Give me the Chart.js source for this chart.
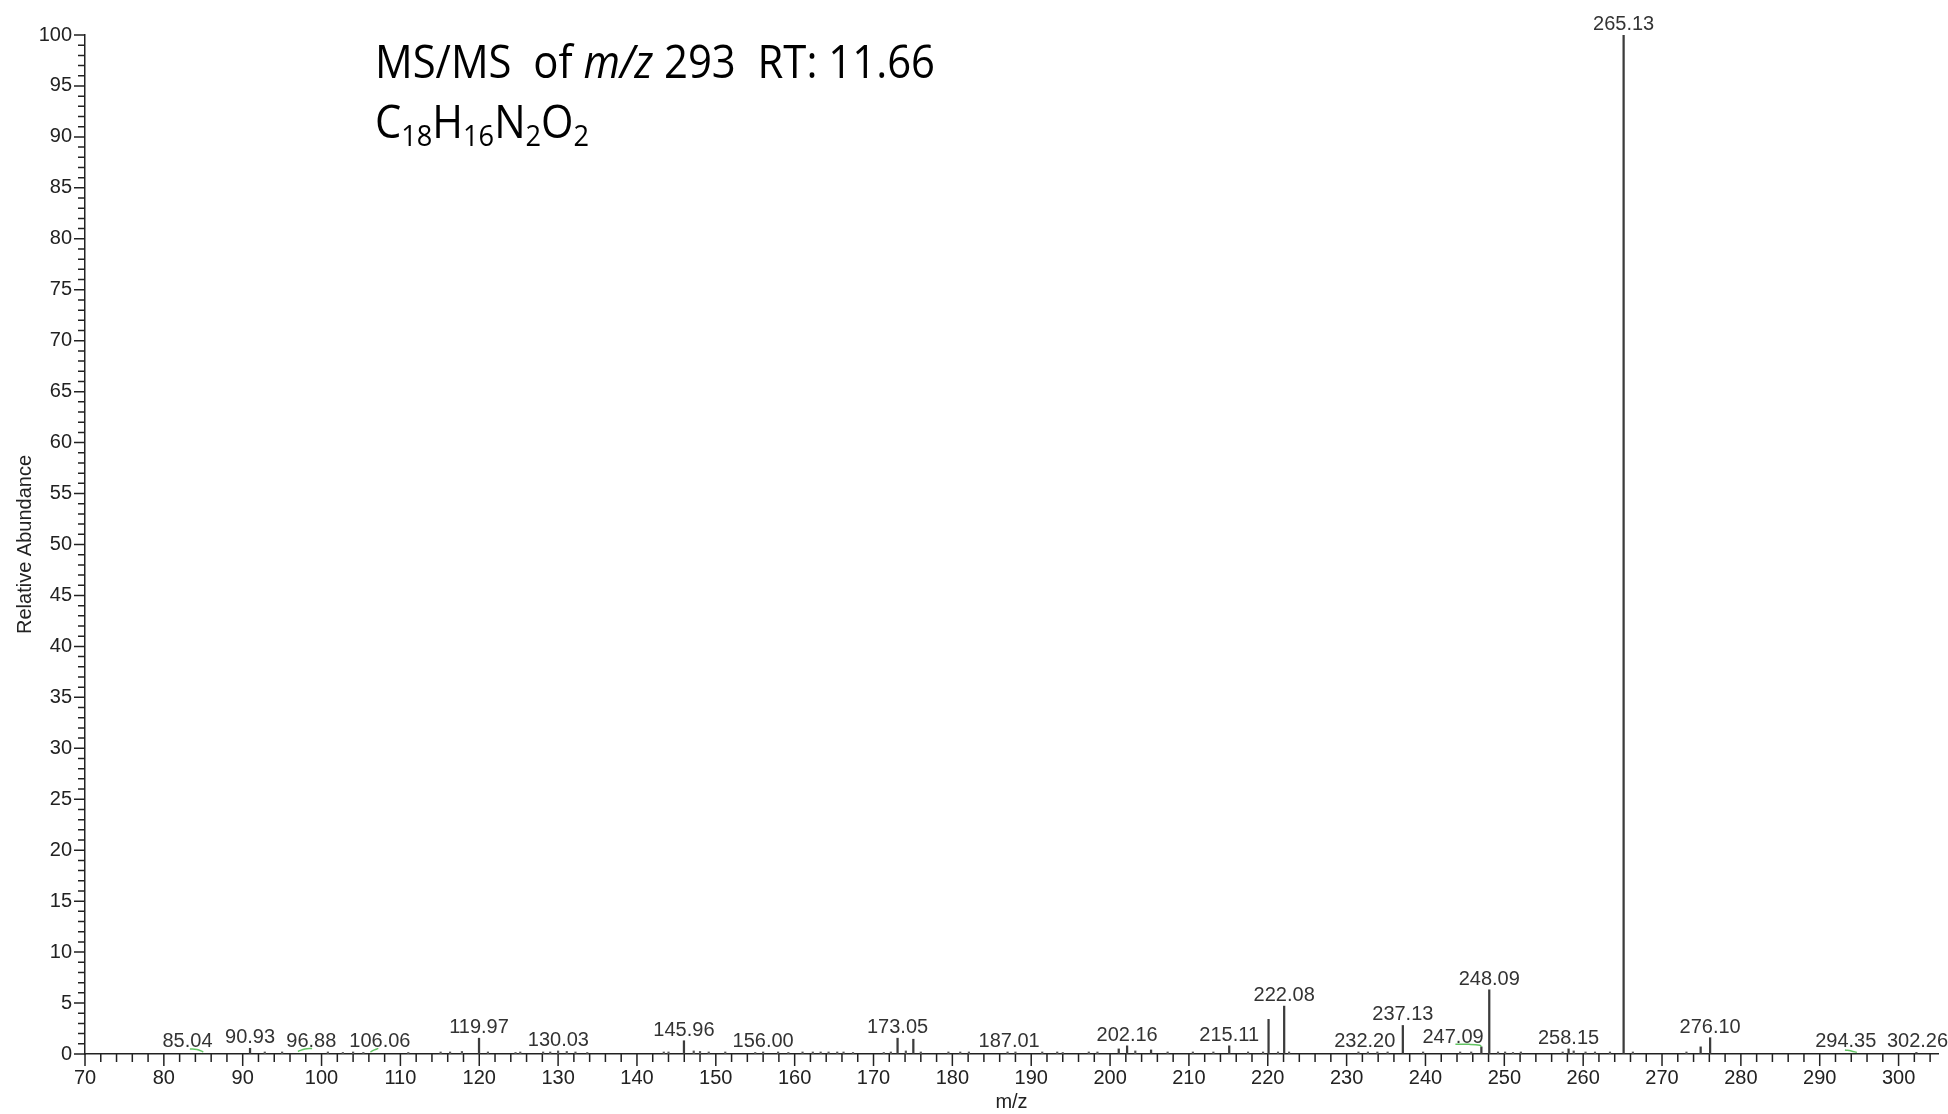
<!DOCTYPE html>
<html>
<head>
<meta charset="utf-8">
<title>MS/MS of m/z 293</title>
<script src="https://cdn.jsdelivr.net/npm/chart.js@4.4.0/dist/chart.umd.min.js"></script>
<style>
  html, body { margin: 0; padding: 0; background: #fff; }
  #wrap { width: 1948px; height: 1114px; }
</style>
</head>
<body>
<div id="wrap"><canvas id="spectrum" width="1948" height="1114"></canvas></div>
<script>
// main fragment peaks (m/z, relative abundance %)
const peakMz = [90.93, 119.97, 145.96, 173.05, 175.05, 201.1, 202.16, 205.2, 215.11, 220.1, 222.08, 237.13, 247.09, 248.09, 258.15, 265.13, 274.9, 276.10, 302.26];
const peakAbund = [0.56, 1.55, 1.3, 1.55, 1.45, 0.5, 0.8, 0.4, 0.8, 3.4, 4.7, 2.8, 0.7, 6.3, 0.5, 100, 0.7, 1.6, 0.15];

// tiny noise peaks along the baseline
const noiseMz = [92.8, 95.0, 100.8, 102.7, 104.0, 105.3, 111.0, 115.1, 116.3, 117.8, 121.1, 124.6, 125.2, 128.1, 129.0, 130.0, 131.1, 132.2, 133.7,
  143.4, 144.0, 147.2, 148.0, 149.1, 151.2, 155.0, 156.0, 157.9, 159.2, 161.0, 162.3, 163.3, 164.3, 165.4, 166.2, 167.4, 171.3, 172.2, 174.1,
  176.0, 179.5, 181.0, 182.1, 187.0, 188.0, 191.4, 193.3, 194.0, 197.3, 198.4, 203.2, 207.3, 210.5, 213.1, 217.5, 219.4, 221.3, 222.7,
  231.5, 232.7, 233.9, 235.2, 239.7, 244.4, 245.8, 249.2, 250.1, 251.1, 252.1, 257.4, 258.8, 260.3, 261.5, 263.4, 266.3, 273.1];
const noiseAbund = [0.2, 0.2, 0.2, 0.15, 0.2, 0.15, 0.15, 0.2, 0.2, 0.25, 0.2, 0.15, 0.2, 0.2, 0.2, 0.3, 0.25, 0.2, 0.15,
  0.2, 0.2, 0.3, 0.25, 0.2, 0.2, 0.15, 0.2, 0.2, 0.15, 0.2, 0.2, 0.2, 0.2, 0.2, 0.2, 0.15, 0.15, 0.2, 0.3,
  0.2, 0.2, 0.2, 0.2, 0.2, 0.2, 0.2, 0.2, 0.15, 0.2, 0.2, 0.3, 0.2, 0.2, 0.2, 0.2, 0.2, 0.2, 0.2,
  0.2, 0.2, 0.2, 0.2, 0.2, 0.2, 0.2, 0.2, 0.2, 0.15, 0.2, 0.2, 0.3, 0.2, 0.2, 0.2, 0.2, 0.2];

// small green profile traces (null breaks the line)
const traceMz = [83.3, 84.2, 85.0, 85.1, 97.0, 97.9, 98.8, 98.9, 106.2, 106.7, 107.2, 107.3, 243.8, 245.5, 246.9, 247.1, 247.2, 293.2, 294.0, 294.7];
const traceAbund = [0.5, 0.45, 0.2, null, 0.25, 0.5, 0.55, null, 0.2, 0.4, 0.55, null, 0.95, 0.95, 0.85, 0.7, null, 0.4, 0.3, 0.15];

// peak annotations: text, m/z where it sits, abundance it sits on
const labelText = ['85.04', '90.93', '96.88', '106.06', '119.97', '130.03', '145.96', '156.00', '173.05', '187.01', '202.16',
  '215.11', '222.08', '232.20', '237.13', '247.09', '248.09', '258.15', '265.13', '276.10', '294.35', '302.26'];
const labelMz = [83.0, 90.93, 98.7, 107.4, 119.97, 130.03, 145.96, 156.00, 173.05, 187.2, 202.16,
  215.11, 222.08, 232.3, 237.13, 243.5, 248.09, 258.15, 265.13, 276.10, 293.3, 302.4];
const labelAbund = [0.23, 0.56, 0.23, 0.23, 1.55, 0.32, 1.3, 0.23, 1.6, 0.17, 0.8,
  0.8, 4.7, 0.23, 2.8, 0.56, 6.3, 0.5, 100, 1.6, 0.23, 0.23];

const xMin = 70, xMax = 305;
const yMin = 0, yMax = 100;

const FONT = "'Liberation Sans', Arial, sans-serif";
Chart.defaults.font.family = FONT;
Chart.defaults.color = '#222';

const toPoints = (xs, ys) => xs.map((x, i) => ({ x: x, y: ys[i] }));

// minor/major tick marks on both axes
const tickMarks = {
  id: 'tickMarks',
  afterDraw(chart) {
    const { ctx, chartArea } = chart;
    const xs = chart.scales.x, ys = chart.scales.y;
    ctx.save();
    ctx.strokeStyle = '#222';
    ctx.lineWidth = 1.5;
    ctx.beginPath();
    xs.ticks.forEach(t => {
      const px = xs.getPixelForValue(t.value);
      const len = t.value % 10 === 0 ? 12 : 8;
      ctx.moveTo(px, chartArea.bottom);
      ctx.lineTo(px, chartArea.bottom + len);
    });
    ys.ticks.forEach(t => {
      const py = ys.getPixelForValue(t.value);
      const len = t.value % 5 === 0 ? 11 : 7;
      ctx.moveTo(chartArea.left, py);
      ctx.lineTo(chartArea.left - len, py);
    });
    ctx.stroke();
    ctx.restore();
  }
};

// m/z annotations above peaks
const peakLabels = {
  id: 'peakLabels',
  afterDatasetsDraw(chart) {
    const { ctx } = chart;
    const xs = chart.scales.x, ys = chart.scales.y;
    ctx.save();
    ctx.font = '20px ' + FONT;
    ctx.fillStyle = '#333';
    ctx.textAlign = 'center';
    ctx.textBaseline = 'alphabetic';
    labelText.forEach((t, i) => {
      ctx.fillText(t, xs.getPixelForValue(labelMz[i]), ys.getPixelForValue(labelAbund[i]) - 5);
    });
    ctx.restore();
  }
};

// two-line heading inside the plot
const heading = {
  id: 'heading',
  afterDraw(chart) {
    const ctx = chart.ctx;
    const size = 46, sub = 30;
    const fam = "'Open Sans', 'Liberation Sans', sans-serif";
    function drawRuns(runs, x, y, width) {
      let total = 0;
      runs.forEach(r => { ctx.font = r.f; total += ctx.measureText(r.t).width; });
      const sx = width / total;
      ctx.save();
      ctx.translate(x, y);
      ctx.scale(sx, 1);
      let cx = 0;
      runs.forEach(r => {
        ctx.font = r.f;
        ctx.fillText(r.t, cx, r.dy || 0);
        cx += ctx.measureText(r.t).width;
      });
      ctx.restore();
    }
    ctx.save();
    ctx.fillStyle = '#000';
    ctx.textAlign = 'left';
    ctx.textBaseline = 'alphabetic';
    const n = size + 'px ' + fam, it = 'italic ' + size + 'px ' + fam, s = sub + 'px ' + fam;
    drawRuns([
      { t: 'MS/MS  of ', f: n },
      { t: 'm/z', f: it },
      { t: ' 293  RT: 11.66', f: n }
    ], 375, 78, 560);
    drawRuns([
      { t: 'C', f: n }, { t: '18', f: s, dy: 8 },
      { t: 'H', f: n }, { t: '16', f: s, dy: 8 },
      { t: 'N', f: n }, { t: '2', f: s, dy: 8 },
      { t: 'O', f: n }, { t: '2', f: s, dy: 8 }
    ], 375, 138, 214);
    ctx.restore();
  }
};

new Chart(document.getElementById('spectrum'), {
  type: 'bar',
  data: {
    datasets: [
      {
        type: 'line',
        label: 'profile',
        data: toPoints(traceMz, traceAbund),
        borderColor: '#62c462',
        borderWidth: 1.5,
        pointRadius: 0,
        tension: 0.4,
        spanGaps: false
      },
      {
        label: 'noise',
        data: toPoints(noiseMz, noiseAbund),
        backgroundColor: '#555',
        barThickness: 1.5
      },
      {
        label: 'peaks',
        data: toPoints(peakMz, peakAbund),
        backgroundColor: '#3c3c3c',
        barThickness: 1.6
      }
    ]
  },
  options: {
    responsive: false,
    animation: false,
    devicePixelRatio: 1,
    grouped: false,
    layout: { padding: { top: 35, right: 10, left: 0, bottom: 0 } },
    plugins: {
      legend: { display: false },
      tooltip: { enabled: false }
    },
    scales: {
      x: {
        type: 'linear',
        min: xMin,
        max: xMax,
        offset: false,
        grid: { display: false, drawTicks: false },
        border: { display: true, color: '#222', width: 1.5 },
        ticks: {
          stepSize: 2,
          includeBounds: false,
          autoSkip: false,
          maxRotation: 0,
          padding: 12,
          color: '#222',
          font: { size: 20 },
          callback: v => (v % 10 === 0 ? v : '')
        },
        title: { display: true, text: 'm/z', font: { size: 20 }, color: '#222', padding: { top: 0, bottom: 0 } },
        afterFit: s => { s.height = 60; }
      },
      y: {
        min: yMin,
        max: yMax,
        grid: { display: false, drawTicks: false },
        border: { display: true, color: '#222', width: 1.5 },
        ticks: {
          stepSize: 1,
          autoSkip: false,
          padding: 13,
          color: '#222',
          font: { size: 20 },
          callback: v => (v % 5 === 0 ? v : '')
        },
        title: { display: true, text: 'Relative Abundance', font: { size: 20 }, color: '#222', padding: { top: 13, bottom: 0 } },
        afterFit: s => { s.width = 85; }
      }
    }
  },
  plugins: [tickMarks, peakLabels, heading]
});
</script>
</body>
</html>
